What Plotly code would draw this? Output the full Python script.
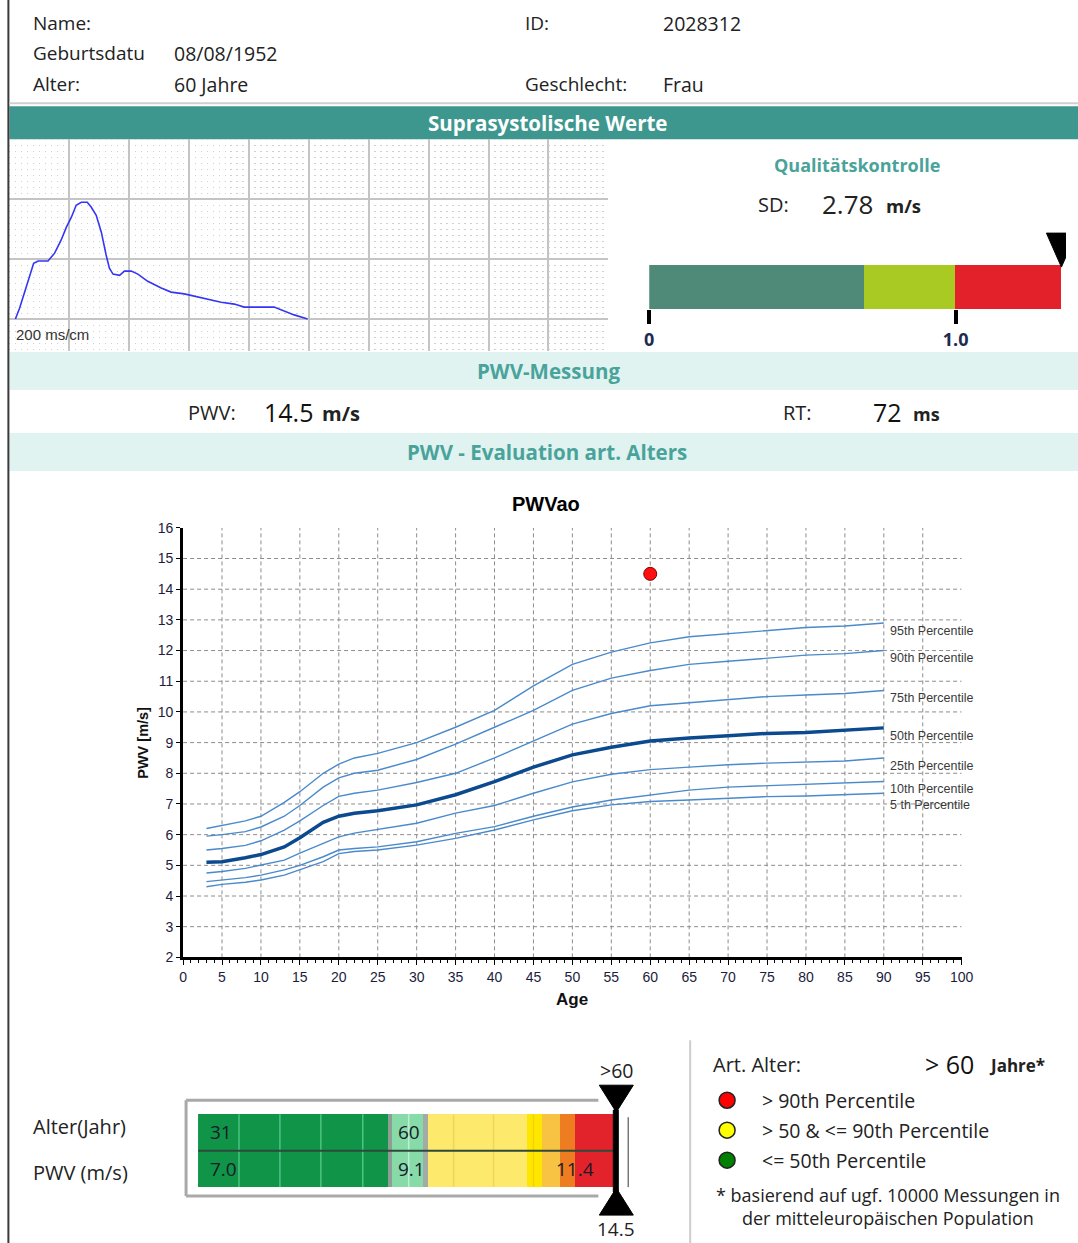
import plotly.graph_objects as go

W, H = 1078, 1243
# observed page->picture mapping of the capture (picture = A * page + B); positions below are
# given in reference-picture pixels and converted back to page pixels
AX, BX = 0.986, 3.6
AY, BY = 0.9882, 6.6
CAL = "Open Sans, Noto Sans, sans-serif"
ARI = "Liberation Sans, Arial, sans-serif"
TEAL = "#3e978f"
TEAL_TXT = "#4aa39b"
BANNER = "#e0f3f0"

# ---------------- data ----------------
header_labels_left = ["Name:", "Geburtsdatu", "Alter:"]
header_values_left = ["", "08/08/1952", "60 Jahre"]
header_labels_right = ["ID:", "", "Geschlecht:"]
header_values_right = ["2028312", "", "Frau"]

# supra-systolic waveform (time in ms, amplitude in grid divisions)
wave_t_ms = [20, 34, 51, 68, 81, 96, 129, 151, 173, 190, 207, 223, 240, 260, 273, 290, 307, 323, 334, 346,
             368, 384, 407, 429, 462, 507, 540, 584, 618, 662, 707, 751, 784, 884, 918, 951, 996]
wave_amp = [0, 0.18, 0.45, 0.73, 0.93, 0.97, 0.97, 1.1, 1.32, 1.53, 1.7, 1.9, 1.95, 1.95, 1.87, 1.73, 1.45, 1.07,
            0.85, 0.75, 0.73, 0.8, 0.8, 0.75, 0.63, 0.52, 0.45, 0.42, 0.38, 0.32, 0.28, 0.25, 0.2, 0.2, 0.13, 0.07, 0]

# quality control
qc_sd = 2.78
qc_seg_start = [0.0, 0.7, 1.0]
qc_seg_end = [0.7, 1.0, 1.345]
qc_seg_colors = ["#4f8a79", "#a9c923", "#e3212a"]
qc_ticks = [0, 1.0]
qc_ticktext = ["0", "1.0"]

pwv_value = 14.5
rt_value = 72

# percentile curves
ages = [3, 5, 8, 10, 13, 15, 18, 20, 22, 25, 30, 35, 40, 45, 50, 55, 60, 65, 70, 75, 80, 85, 90]
p95 = [6.2, 6.3, 6.45, 6.6, 7.05, 7.4, 8.0, 8.3, 8.5, 8.65, 9.0, 9.5, 10.05, 10.85, 11.55, 11.95, 12.25, 12.45, 12.55, 12.65, 12.75, 12.8, 12.9]
p90 = [5.95, 6.0, 6.1, 6.25, 6.6, 6.95, 7.55, 7.85, 8.0, 8.1, 8.45, 8.95, 9.5, 10.05, 10.7, 11.1, 11.35, 11.55, 11.65, 11.75, 11.85, 11.9, 12.0]
p75 = [5.5, 5.55, 5.65, 5.8, 6.15, 6.45, 6.95, 7.25, 7.35, 7.45, 7.7, 8.0, 8.5, 9.05, 9.6, 9.95, 10.2, 10.3, 10.4, 10.5, 10.55, 10.6, 10.7]
p50 = [5.1, 5.12, 5.25, 5.35, 5.6, 5.9, 6.4, 6.6, 6.7, 6.78, 6.97, 7.3, 7.73, 8.2, 8.6, 8.85, 9.05, 9.15, 9.22, 9.3, 9.33, 9.4, 9.48]
p25 = [4.75, 4.8, 4.9, 5.0, 5.17, 5.4, 5.72, 5.93, 6.05, 6.17, 6.37, 6.7, 6.95, 7.35, 7.72, 7.97, 8.12, 8.2, 8.28, 8.33, 8.36, 8.4, 8.5]
p10 = [4.47, 4.52, 4.6, 4.68, 4.85, 5.0, 5.28, 5.5, 5.55, 5.6, 5.77, 6.04, 6.26, 6.6, 6.9, 7.13, 7.3, 7.45, 7.55, 7.6, 7.63, 7.7, 7.73]
p5 = [4.3, 4.38, 4.45, 4.52, 4.68, 4.85, 5.12, 5.38, 5.45, 5.5, 5.66, 5.88, 6.15, 6.48, 6.78, 6.97, 7.08, 7.13, 7.18, 7.24, 7.26, 7.3, 7.35]
percentile_names = ["95th Percentile", "90th Percentile", "75th Percentile", "50th Percentile",
                    "25th Percentile", "10th Percentile", "5 th Percentile"]
patient_age = 60
patient_pwv = 14.5
x_ticks = list(range(0, 101, 5))
y_ticks = list(range(2, 17))

# arterial age gauge
gauge_widths = [190, 4, 31, 5, 100, 15, 18, 15, 38]
gauge_colors = ["#0f9448", "#8e9e94", "#86dba8", "#a3aba6", "#fde96c", "#ffe600", "#f8c242", "#ee7d22", "#e3232b"]
gauge_dividers = [41, 82, 123, 165, 211, 256, 296, 336]
gauge_divider_colors = ["#4cc381", "#4cc381", "#4cc381", "#4cc381", "#c0eed3", "#eed75a", "#eed75a", "#f2d400"]
gauge_age_labels = ["31", "60"]
gauge_pwv_labels = ["7.0", "9.1", "11.4"]
art_age_text = "&gt; 60"
legend_colors = ["#ff0000", "#ffff00", "#008000"]
legend_texts = ["&gt; 90th Percentile", "&gt; 50 &amp; &lt;= 90th Percentile", "&lt;= 50th Percentile"]

# ---------------- helpers (reference pixels -> paper) ----------------
shapes, anns = [], []


def fx(x):
    return ((x - BX) / AX) / W


def fy(y):
    return 1 - ((y - BY) / AY) / H


def T(x, y, text, size=16, color="#222222", bold=False, anchor="left", family=CAL, angle=0):
    anns.append(dict(x=fx(x), y=fy(y), xref="paper", yref="paper", showarrow=False,
                     text=f"<b>{text}</b>" if bold else text, xanchor=anchor, yanchor="middle",
                     textangle=angle, font=dict(size=size, color=color, family=family)))


def R(x0, y0, x1, y1, fill, layer="below"):
    shapes.append(dict(type="rect", xref="paper", yref="paper", x0=fx(x0), x1=fx(x1), y0=fy(y0), y1=fy(y1),
                       fillcolor=fill, line=dict(width=0), layer=layer))


def L(x0, y0, x1, y1, color, width=1, layer="above"):
    shapes.append(dict(type="line", xref="paper", yref="paper", x0=fx(x0), x1=fx(x1), y0=fy(y0), y1=fy(y1),
                       line=dict(color=color, width=width), layer=layer))


fig = go.Figure()

# ---------------- page decoration ----------------
L(7, -20, 7, 1260, "#3a3a3a", 2)
rows_y = [22, 52, 83]
for y, lab, val in zip(rows_y, header_labels_left, header_values_left):
    T(30, y, lab, 19)
    if val:
        T(171, y, val, 19.5)
for y, lab, val in zip(rows_y, header_labels_right, header_values_right):
    if lab:
        T(523, y, lab, 19)
    if val:
        T(661, y, val, 19.5)
L(8, 102, 1090, 102, "#cfcfcf", 2)
R(8, 105, 1090, 138, TEAL)
T(547, 122, "Suprasystolische Werte", 20.5, "white", True, "center")

# quality panel
T(857, 164, "Qualitätskontrolle", 18, TEAL_TXT, True, "center")
T(791, 203, "SD:", 20, "#222", False, "right")
T(820, 203, f"{qc_sd:.2f}", 26, "#222")
T(884, 204, "m/s", 18.5, "#222", True)

# PWV measurement
R(8, 351, 1090, 389, BANNER)
T(548, 370, "PWV-Messung", 20.5, TEAL_TXT, True, "center")
T(237, 412, "PWV:", 20, "#222", False, "right")
T(261, 411, f"{pwv_value:.1f}", 25, "#111")
T(319, 413, "m/s", 20, "#222", True)
T(814, 412, "RT:", 20, "#222", False, "right")
T(871, 411, f"{rt_value}", 25, "#111")
T(911, 413, "ms", 18, "#222", True)
R(8, 432, 1090, 470, BANNER)
T(547, 451, "PWV - Evaluation art. Alters", 20.5, TEAL_TXT, True, "center")

# chart titles
T(546, 503, "PWVao", 20, "#000", True, "center", ARI)
T(572, 999, "Age", 17, "#111", True, "center", ARI)
T(141, 742, "PWV [m/s]", 14.5, "#111", True, "center", ARI, -90)
T(13, 333, "200 ms/cm", 15, "#333", False, "left", ARI)

# bottom section
L(690, 1040, 690, 1260, "#cdcdcd", 2)
T(30, 1126, "Alter(Jahr)", 20)
T(30, 1172, "PWV (m/s)", 20)
L(185, 1100, 598, 1100, "#a9a9a9", 3)
L(185, 1100, 185, 1196, "#a9a9a9", 3)
L(185, 1196, 598, 1196, "#a9a9a9", 3)
L(628, 1117, 628, 1187, "#777777", 1.5)

T(711, 1064, "Art. Alter:", 20)
T(923, 1064, art_age_text, 25, "#111")
T(987, 1065, "Jahre*", 17, "#222", True)
for i, (c, t) in enumerate(zip(legend_colors, legend_texts)):
    yc = 1100 + 30 * i
    shapes.append(dict(type="circle", xref="paper", yref="paper", x0=fx(719), x1=fx(735), y0=fy(yc + 8),
                       y1=fy(yc - 8), fillcolor=c, line=dict(color="#222", width=1.5)))
    T(760, yc, t, 19.5)
T(888, 1195, "* basierend auf ugf. 10000 Messungen in", 18, "#222", False, "center")
T(888, 1218, "der mitteleuropäischen Population", 18, "#222", False, "center")

# ---------------- waveform ----------------
fig.add_trace(go.Scatter(x=wave_t_ms, y=wave_amp, mode="lines", line=dict(color="#3535f5", width=1.6),
                         xaxis="x2", yaxis="y2", showlegend=False, hoverinfo="skip"))

# ---------------- quality bar ----------------
for s, e, c in zip(qc_seg_start, qc_seg_end, qc_seg_colors):
    fig.add_trace(go.Bar(x=[e - s], base=[s], y=[0.5], width=1, orientation="h",
                         marker=dict(color=c, line=dict(width=0)),
                         xaxis="x3", yaxis="y3", showlegend=False, hoverinfo="skip"))
qc_pos = min(qc_sd, qc_seg_end[-1])
shapes.append(dict(type="path", xref="x3", yref="y3", xsizemode="pixel", ysizemode="pixel",
                   xanchor=qc_pos, yanchor=1, path="M-15,32 L15,32 L0,-2 Z",
                   fillcolor="black", line=dict(color="black", width=1)))

# ---------------- main chart ----------------
for gx in x_ticks[1:-1]:
    shapes.append(dict(type="line", xref="x", yref="y", x0=gx, x1=gx, y0=y_ticks[0], y1=y_ticks[-1],
                       line=dict(color="#8c8c8c", width=1, dash="4px,3px"), layer="below"))
for gy in y_ticks[1:-1]:
    shapes.append(dict(type="line", xref="x", yref="y", x0=x_ticks[0], x1=x_ticks[-1], y0=gy, y1=gy,
                       line=dict(color="#8c8c8c", width=1, dash="4px,3px"), layer="below"))

curves = [p95, p90, p75, p50, p25, p10, p5]
label_y_prev = None
for name, vals in zip(percentile_names, curves):
    thick = name.startswith("50")
    fig.add_trace(go.Scatter(x=ages, y=vals, mode="lines", name=name, showlegend=False, hoverinfo="skip",
                             line=dict(color="#0b4a8e" if thick else "#4a8acb", width=3.5 if thick else 1.4)))
    ly = vals[-1] - 0.25
    if label_y_prev is not None:
        ly = min(ly, label_y_prev - 0.5)
    label_y_prev = ly
    anns.append(dict(x=ages[-1] + 0.6, y=ly, xref="x", yref="y", text=name, showarrow=False,
                     xanchor="left", yanchor="middle", font=dict(size=12.5, color="#3a3a3a", family=ARI)))

fig.add_trace(go.Scatter(x=[patient_age], y=[patient_pwv], mode="markers", showlegend=False, hoverinfo="skip",
                         marker=dict(size=13, color="#ff1010", line=dict(color="#7a0000", width=1))))

# ---------------- arterial age gauge ----------------
start = 0
gauge_starts = []
for w_, c in zip(gauge_widths, gauge_colors):
    gauge_starts.append(start)
    fig.add_trace(go.Bar(x=[w_], base=[start], y=[1], width=2, orientation="h",
                         marker=dict(color=c, line=dict(width=0)), xaxis="x4", yaxis="y4",
                         showlegend=False, hoverinfo="skip"))
    start += w_
gauge_total = start
for dx, dc in zip(gauge_dividers, gauge_divider_colors):
    shapes.append(dict(type="line", xref="x4", yref="y4", x0=dx, x1=dx, y0=0, y1=2,
                       line=dict(color=dc, width=1.5)))
shapes.append(dict(type="line", xref="x4", yref="y4", x0=0, x1=gauge_total, y0=1, y1=1,
                   line=dict(color="#2f4a3a", width=2)))
gfont = dict(size=19, color="#1a1a2a", family=CAL)
anns += [
    dict(x=gauge_starts[0] + 10, y=1.5, xref="x4", yref="y4", text=gauge_age_labels[0], showarrow=False, xanchor="left", font=gfont),
    dict(x=gauge_starts[0] + 10, y=0.5, xref="x4", yref="y4", text=gauge_pwv_labels[0], showarrow=False, xanchor="left", font=gfont),
    dict(x=gauge_starts[2] + 4, y=1.5, xref="x4", yref="y4", text=gauge_age_labels[1], showarrow=False, xanchor="left", font=gfont),
    dict(x=gauge_starts[2] + 4, y=0.5, xref="x4", yref="y4", text=gauge_pwv_labels[1], showarrow=False, xanchor="left", font=gfont),
    dict(x=gauge_starts[-1], y=0.5, xref="x4", yref="y4", text=gauge_pwv_labels[2], showarrow=False, xanchor="center", font=gfont),
]
# marker at the end of the gauge (measured value lies beyond the scale)
mk = dict(xref="x4", yref="y4", xsizemode="pixel", ysizemode="pixel", xanchor=gauge_total,
          fillcolor="black", line=dict(color="black", width=1))
shapes.append(dict(type="rect", x0=0, x1=5, yanchor=0, y0=-5, y1=77, **mk))
shapes.append(dict(type="path", yanchor=2, path="M-14,29 L20,29 L3,2 Z", **mk))
shapes.append(dict(type="path", yanchor=0, path="M-14,-28 L20,-28 L3,-1 Z", **mk))
anns.append(dict(x=gauge_total, xshift=3, y=2, yshift=44, xref="x4", yref="y4", text="&gt;60", showarrow=False,
                 xanchor="center", font=dict(size=19.5, color="#222", family=CAL)))
anns.append(dict(x=gauge_total, xshift=3, y=0, yshift=-42, xref="x4", yref="y4", text=f"{pwv_value:.1f}",
                 showarrow=False, xanchor="center", font=dict(size=19, color="#222", family=CAL)))

# ---------------- layout ----------------
tickf = dict(family=ARI, size=14, color="#1c1c3c")
qc_px = 307.0      # reference pixels per SD unit on the quality scale
g_px = 36.5        # reference pixels per row unit on the gauge
fig.update_layout(
    width=W, height=H, margin=dict(l=0, r=0, t=0, b=0), autosize=False,
    paper_bgcolor="white", plot_bgcolor="rgba(0,0,0,0)", barmode="overlay", bargap=0,
    shapes=shapes, annotations=anns,
    xaxis=dict(domain=[fx(182), fx(962)], range=[0, 100], tickvals=x_ticks, showgrid=False, zeroline=False,
               showline=True, linecolor="black", linewidth=3, ticks="outside", ticklen=5, tickcolor="black",
               minor=dict(ticks="outside", ticklen=3, dtick=1, tickcolor="black"), tickfont=tickf, anchor="y"),
    yaxis=dict(domain=[fy(957), fy(527)], range=[2, 16], tickvals=y_ticks, showgrid=False, zeroline=False,
               showline=True, linecolor="black", linewidth=3, ticks="outside", ticklen=4, tickcolor="black",
               tickfont=tickf, anchor="x"),
    xaxis2=dict(domain=[fx(8), fx(608)], range=[0, 2000], dtick=200, tick0=0, showticklabels=False, ticks="",
                showgrid=True, gridcolor="#c4c4c4", gridwidth=2, zeroline=False, showline=False,
                minor=dict(dtick=20, showgrid=True, gridcolor="#cfcfcf", griddash="1px,5px", gridwidth=1),
                anchor="y2"),
    yaxis2=dict(domain=[fy(350), fy(138)], range=[-0.533, 3.0], dtick=1, tick0=0, showticklabels=False, ticks="",
                showgrid=True, gridcolor="#c4c4c4", gridwidth=2, zeroline=False, showline=False,
                minor=dict(dtick=0.1, showgrid=True, gridcolor="#cfcfcf", griddash="1px,5px", gridwidth=1),
                anchor="x2"),
    xaxis3=dict(domain=[fx(649), min(1.0, fx(1078))], range=[0, (min(1078, W * AX + BX) - 649) / qc_px],
                tickvals=qc_ticks,
                ticktext=[f"<b>{t}</b>" for t in qc_ticktext], ticks="outside", ticklen=14, tickwidth=4,
                tickcolor="black", showgrid=False, zeroline=False, showline=False,
                tickfont=dict(family=CAL, size=18, color="#1d2b4f"), anchor="y3"),
    yaxis3=dict(domain=[fy(308), fy(230)], range=[0, 78 / 44], visible=False, anchor="x3"),
    xaxis4=dict(domain=[fx(197), fx(650)], range=[0, 453], visible=False, anchor="y4"),
    yaxis4=dict(domain=[fy(1222), fy(1080)], range=[-(1222 - 1187) / g_px, 2 + (1114 - 1080) / g_px],
                visible=False, anchor="x4"),
)

fig.write_html("out.html", config={"displayModeBar": False},
               post_script="document.body.style.margin='0';document.body.style.overflow='hidden';")
